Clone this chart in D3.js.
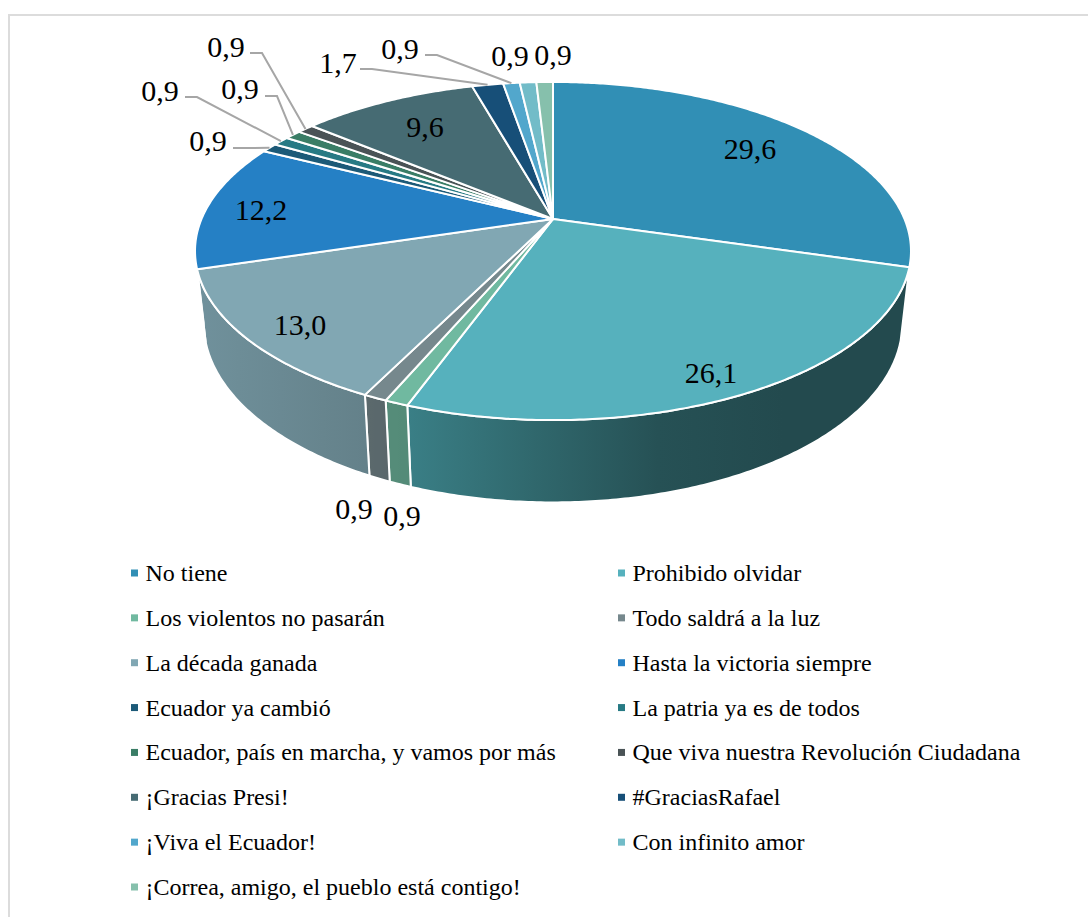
<!DOCTYPE html>
<html>
<head>
<meta charset="utf-8">
<script src="https://cdn.jsdelivr.net/npm/d3@7/dist/d3.min.js"></script>
<style>
  html, body { margin: 0; padding: 0; background: #fff; overflow: hidden; }
  text { font-family: "Liberation Serif", "Times New Roman", serif; fill: #000; }
</style>
</head>
<body>
<svg id="chart" width="1088" height="917"></svg>
<script>
const categories = [
  'No tiene', 'Prohibido olvidar', 'Los violentos no pasarán', 'Todo saldrá a la luz',
  'La década ganada', 'Hasta la victoria siempre', 'Ecuador ya cambió', 'La patria ya es de todos',
  'Ecuador, país en marcha, y vamos por más', 'Que viva nuestra Revolución Ciudadana',
  '¡Gracias Presi!', '#GraciasRafael', '¡Viva el Ecuador!', 'Con infinito amor',
  '¡Correa, amigo, el pueblo está contigo!'
];
const values = [29.6, 26.1, 0.9, 0.9, 13.0, 12.2, 0.9, 0.9, 0.9, 0.9, 9.6, 1.7, 0.9, 0.9, 0.9];
const colors = [
  '#318fb5', '#56b1bd', '#70b9a0', '#76888d', '#81a7b3', '#2580c5', '#1c5a78', '#277a84',
  '#3a7d66', '#4a5356', '#466b73', '#174f78', '#52a7cc', '#72bcc8', '#86c0ac'
];

// hand placed data labels, [x, y] is the text centre
const labelPos = [
  [750, 148], [711, 372], [402, 515], [354, 508], [300, 324], [261, 209], [208, 140], [160, 90],
  [240, 88], [226, 46], [425, 126], [338, 62], [400, 48], [510, 55], [553, 54]
];
// leader lines for small slices: [start x, elbow x, y], null = no leader
const leaderStart = [
  null, null, null, null, null, null, [233, 246, 148], [185, 197, 97],
  [265, 277, 96], [250, 262, 53], null, [360, 372, 69], [425, 437, 55], null, null
];

const svg = d3.select('#chart');
const defs = svg.append('defs');

// Perspective of the tilted pie, fitted on the rim of the reference
const cx = 553, p = 0.1894;
const topFace = { y0: 219, a: 163, b: 351.5 };
const bottomFace = { y0: 289, a: 173, b: 343 };

function project(face, t) {
  const d = 1 + p * Math.cos(t);
  return [cx + face.b * Math.sin(t) / d, face.y0 - face.a * Math.cos(t) / d];
}

function arcPoints(face, a0, a1) {
  const n = Math.max(2, Math.ceil(Math.abs(a1 - a0) / 0.01));
  return d3.range(n + 1).map(i => project(face, a0 + (a1 - a0) * i / n));
}

const pieGen = d3.pie().sort(null).value(d => d);
const arcs = pieGen(values);
const line = d3.line();
const sideFrom = Math.acos(-p), sideTo = 2 * Math.PI - sideFrom;

// Side wall, near half only
const sides = svg.append('g');
arcs.forEach((a, i) => {
  const s = Math.max(a.startAngle, sideFrom), e = Math.min(a.endAngle, sideTo);
  if (e <= s) return;
  const base = d3.color(colors[i]);
  const outer = arcPoints(topFace, s, e);
  const inner = arcPoints(bottomFace, e, s);
  const xs = outer.map(q => q[0]);
  const grad = defs.append('linearGradient')
    .attr('id', `side-${i}`)
    .attr('gradientUnits', 'userSpaceOnUse')
    .attr('x1', d3.min(xs)).attr('x2', d3.max(xs)).attr('y1', 0).attr('y2', 0);
  // Light falls from the lower left, the wall darkens away from it
  const shade = x => {
    if (x > 553) return base.darker(0.4 + Math.min(1, (x - 553) / 180) * 1.15);
    return base.darker(0.4 + (x - 200) / 353 * 0.7);
  };
  d3.range(0, 1.01, 0.25).forEach(f => {
    const x = d3.min(xs) + f * (d3.max(xs) - d3.min(xs));
    const c = i === 1 ? d3.interpolateRgb('#3a7f86', '#234a4e')(Math.min(1, (x - 405) / 290)) : shade(x);
    grad.append('stop').attr('offset', f).attr('stop-color', c);
  });
  sides.append('path')
    .attr('d', line(outer.concat(inner)) + 'Z')
    .attr('fill', `url(#side-${i})`)
    .attr('stroke', '#fff').attr('stroke-width', 2).attr('stroke-linejoin', 'round');
});

// Top face
const tops = svg.append('g');
arcs.forEach((a, i) => {
  const pts = [[cx, topFace.y0]].concat(arcPoints(topFace, a.startAngle, a.endAngle));
  tops.append('path')
    .attr('d', line(pts) + 'Z')
    .attr('fill', colors[i])
    .attr('stroke', '#fff').attr('stroke-width', 2).attr('stroke-linejoin', 'round');
});

// Leader lines
const leaders = svg.append('g');
arcs.forEach((a, i) => {
  const l = leaderStart[i];
  if (!l) return;
  const rim = project(topFace, (a.startAngle + a.endAngle) / 2);
  leaders.append('path')
    .attr('d', line([[l[0], l[2]], [l[1], l[2]], rim]))
    .attr('fill', 'none').attr('stroke', '#a6a6a6').attr('stroke-width', 2);
});

// Data labels
svg.append('g').selectAll('text').data(values).join('text')
  .attr('x', (d, i) => labelPos[i][0])
  .attr('y', (d, i) => labelPos[i][1])
  .attr('text-anchor', 'middle')
  .attr('dominant-baseline', 'central')
  .attr('font-size', 30)
  .text(d => d3.format('.1f')(d).replace('.', ','));

// Legend, two columns
const legendX = d3.scaleOrdinal().domain([0, 1]).range([131, 618]);
const legendY = d3.scalePoint().domain(d3.range(8)).range([573, 887]);
const legend = svg.append('g').selectAll('g').data(categories).join('g')
  .attr('transform', (d, i) => `translate(${legendX(i % 2)},${legendY(Math.floor(i / 2))})`);
legend.append('rect')
  .attr('x', 0).attr('y', -3.5).attr('width', 7).attr('height', 7)
  .attr('fill', (d, i) => colors[i]);
legend.append('text')
  .attr('x', 14.5).attr('dominant-baseline', 'central')
  .attr('font-size', 24)
  .text(d => d);

// Chart frame, runs off the picture to the right and below
svg.append('path')
  .attr('d', 'M9,917V15H1088')
  .attr('fill', 'none').attr('stroke', '#dcdcdc').attr('stroke-width', 2);
</script>
</body>
</html>
